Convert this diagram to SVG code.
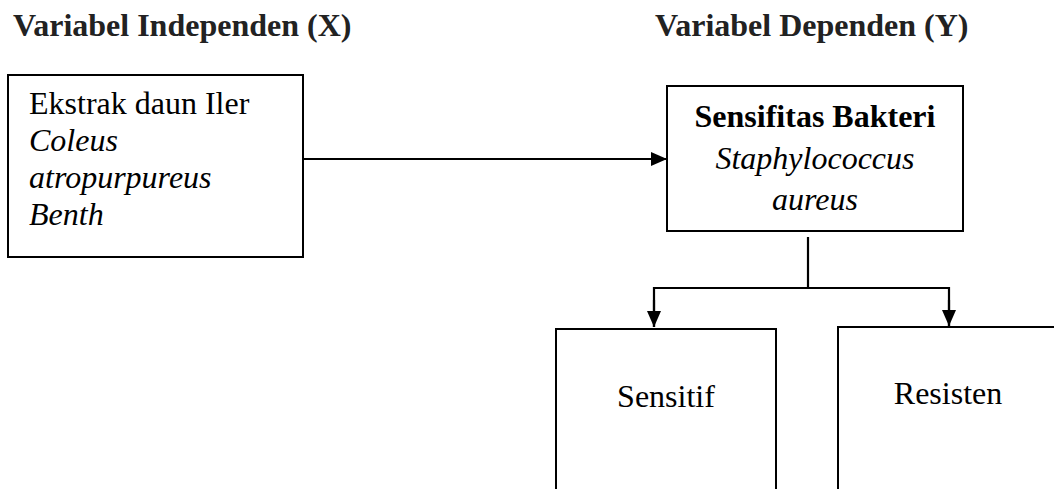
<svg xmlns="http://www.w3.org/2000/svg" width="1054" height="489" viewBox="0 0 1054 489">
  <style>
    .box { fill: #ffffff; stroke: #000000; stroke-width: 2; }
    .txt { font-family: "Liberation Serif", "Times New Roman", serif; font-size: 32px; fill: #000000; }
    .hdr { font-weight: bold; fill: #222222; }
    .b { font-weight: bold; }
    .i { font-style: italic; }
    .line { fill: none; stroke: #000000; stroke-width: 2.2; }
  </style>
  <defs>
    <marker id="arrow" viewBox="0 0 16 14" refX="16" refY="7" markerWidth="16" markerHeight="14" markerUnits="userSpaceOnUse" orient="auto">
      <path d="M0,0 L16,7 L0,14 Z" fill="#000000"/>
    </marker>
  </defs>
  <rect width="1054" height="489" fill="#ffffff"/>

  <!-- column headings -->
  <g id="header-x">
    <text class="txt hdr" x="13" y="36">Variabel Independen (X)</text>
  </g>
  <g id="header-y">
    <text class="txt hdr" x="655" y="36">Variabel Dependen (Y)</text>
  </g>

  <!-- independent variable -->
  <g id="node-ekstrak">
    <rect class="box" x="8" y="75" width="295" height="182"/>
    <text class="txt" x="29" y="114">Ekstrak daun Iler</text>
    <text class="txt i" x="29" y="151">Coleus</text>
    <text class="txt i" x="29" y="188">atropurpureus</text>
    <text class="txt i" x="29" y="225">Benth</text>
  </g>

  <!-- dependent variable -->
  <g id="node-sensifitas">
    <rect class="box" x="667" y="86" width="296" height="145"/>
    <text class="txt b" x="815" y="127" text-anchor="middle">Sensifitas Bakteri</text>
    <text class="txt i" x="815" y="169" text-anchor="middle">Staphylococcus</text>
    <text class="txt i" x="815" y="210" text-anchor="middle">aureus</text>
  </g>

  <g id="node-sensitif">
    <rect class="box" x="556" y="329" width="220" height="180"/>
    <text class="txt" x="666" y="407" text-anchor="middle">Sensitif</text>
  </g>

  <g id="node-resisten">
    <rect class="box" x="838" y="327" width="220" height="180"/>
    <text class="txt" x="948" y="404" text-anchor="middle">Resisten</text>
  </g>

  <!-- connectors -->
  <g id="connectors">
    <line class="line" x1="303" y1="159" x2="667" y2="159" marker-end="url(#arrow)"/>
    <line class="line" x1="808" y1="237" x2="808" y2="288"/>
    <polyline class="line" points="654,327 654,288 949,288 949,326" stroke-linejoin="miter"/>
    <line class="line" x1="654" y1="300" x2="654" y2="327" marker-end="url(#arrow)"/>
    <line class="line" x1="949" y1="300" x2="949" y2="326" marker-end="url(#arrow)"/>
  </g>
</svg>
